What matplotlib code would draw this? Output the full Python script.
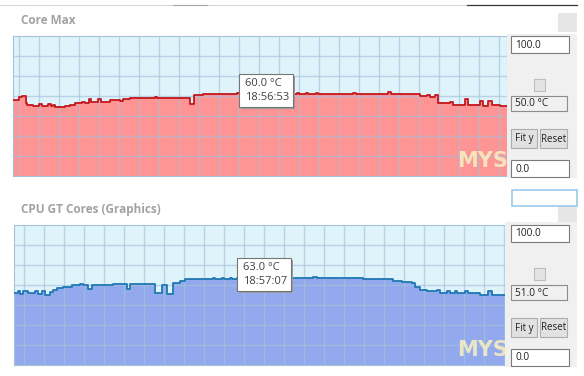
import matplotlib
matplotlib.use("Agg")
import matplotlib.pyplot as plt
from matplotlib.patches import Rectangle

# -----------------------------
# Values (deg C)
# times are seconds from the left edge of each graph, steps start there
# -----------------------------
core_t = [0, 6, 9, 13, 14, 20, 26, 29, 35, 38, 40, 42, 52, 57, 62, 69, 72, 76, 78,
          85, 88, 97, 107, 110, 117, 142, 144, 177, 181, 190, 224, 242, 262, 280,
          284, 286, 293, 295, 303, 305, 340, 343, 375, 378, 407, 414, 417, 422,
          425, 437, 440, 452, 455, 467, 470, 475, 479, 487]
core_max = [54.1, 56.4, 57.1, 52.4, 50.9, 50.0, 51.6, 50.0, 51.6, 50.0, 51.0, 49.3,
            50.0, 50.9, 52.1, 52.9, 52.4, 54.8, 52.9, 55.2, 52.9, 54.5, 53.4, 54.8,
            55.7, 56.4, 55.7, 51.6, 58.1, 58.8, 59.0, 60.0, 59.0, 58.6, 59.5, 58.6,
            59.5, 58.6, 59.5, 58.6, 59.5, 58.6, 60.0, 58.6, 57.1, 58.1, 56.6, 58.1,
            51.8, 52.9, 50.9, 54.8, 50.5, 53.4, 50.0, 53.4, 50.9, 49.8]
core_end = 494

gt_t = [0, 4, 6, 9, 14, 21, 24, 28, 31, 36, 39, 43, 49, 58, 66, 69, 74, 78, 99,
        103, 113, 116, 141, 148, 153, 159, 166, 171, 186, 199, 201, 208, 210, 216,
        218, 223, 279, 299, 303, 339, 349, 379, 388, 398, 401, 406, 413, 423, 426,
        433, 436, 441, 443, 451, 454, 466, 474, 478, 486]
gt_cores = [51.4, 52.6, 50.9, 52.6, 51.4, 52.6, 50.9, 52.6, 50.2, 52.1, 53.8, 55.0,
            55.7, 56.9, 57.9, 56.9, 54.5, 57.4, 58.1, 57.9, 54.5, 58.1, 51.2, 57.1,
            50.7, 58.3, 60.2, 61.2, 61.7, 62.3, 61.7, 62.3, 61.7, 62.3, 61.7, 62.3,
            62.0, 62.6, 61.8, 62.4, 61.6, 59.8, 59.3, 58.3, 55.5, 53.8, 52.6, 53.8,
            51.4, 52.6, 51.4, 53.0, 51.4, 52.6, 51.4, 49.8, 52.6, 50.2, 49.8]
gt_end = 491

titles = ["Core Max", "CPU GT Cores (Graphics)"]
tip_values = ["60.0 °C", "63.0 °C"]
tip_times = ["18:56:53", "18:57:07"]
current_values = ["50.0 °C", "51.0 °C"]
scale_max = "100.0"
scale_min = "0.0"

W, H = 584, 376
fig = plt.figure(figsize=(W / 100, H / 100), dpi=100)
plt.rcParams["font.family"] = ["Open Sans", "DejaVu Sans"]


def px_axes(x0, y0, x1, y1):
    return fig.add_axes([x0 / W, 1 - y1 / H, (x1 - x0) / W, (y1 - y0) / H])


def graph(ax, t, v, t_end, grid_start, fill, line):
    tt = t + [t_end]
    vv = v + [v[-1]]
    ax.set_facecolor("#DFF3FB")
    ax.fill_between(tt, vv, 0, step="post", color=fill, lw=0, zorder=1)
    ax.step(tt, vv, where="post", color=line, lw=1.3, zorder=3)
    ax.set_xlim(0, t_end)
    ax.set_ylim(0, 100)
    ax.set_xticks(range(grid_start, t_end, 20))
    ax.set_yticks([100 - 100 / 7 * k for k in range(1, 7)])
    ax.tick_params(length=0, labelbottom=False, labelleft=False)
    ax.grid(True, color="#A4C2DA", lw=1, alpha=0.65)
    ax.set_axisbelow(False)
    for s in ax.spines.values():
        s.set_color("#A4C2DA")


# -----------------------------
# The two graphs
# -----------------------------
ax1 = px_axes(13, 36, 507, 176)
graph(ax1, core_t, core_max, core_end, 6, "#FF9494", "#C4161C")

ax2 = px_axes(14, 225, 505, 365)
graph(ax2, gt_t, gt_cores, gt_end, 10, "#93A9EE", "#1F78B4")

# -----------------------------
# Window decorations drawn on a pixel overlay
# -----------------------------
ov = fig.add_axes([0, 0, 1, 1])
ov.set_xlim(0, W)
ov.set_ylim(H, 0)
ov.axis("off")
ov.patch.set_alpha(0)


def rect(x0, y0, x1, y1, fc, ec="none", z=5, lw=0.8):
    ov.add_patch(Rectangle((x0, y0), x1 - x0, y1 - y0, fc=fc, ec=ec, lw=lw, zorder=z))


def field(x0, y0, x1, y1, text, fc="white", ec="#7A7A7A", center=False):
    rect(x0, y0, x1, y1, fc, ec, z=7)
    if center:
        ov.text((x0 + x1) / 2, (y0 + y1) / 2 + 0.5, text, ha="center", va="center",
                fontsize=7, color="#202020", zorder=8)
    else:
        ov.text(x0 + 4, (y0 + y1) / 2 + 0.5, text, ha="left", va="center",
                fontsize=7.3, color="#202020", zorder=8)


# top edge of the window
ov.plot([0, 577], [5, 5], color="#D6D6D6", lw=0.8)
ov.plot([173, 207], [5, 5], color="#A8A8A8", lw=0.8)
ov.plot([467, 577], [5, 5], color="#3A3A3A", lw=0.9)

# titles
ov.text(21, 20, titles[0], fontsize=8.5, fontweight="bold", color="#A2A2A2", va="center")
ov.text(21, 209, titles[1], fontsize=8.5, fontweight="bold", color="#A2A2A2", va="center")

# right hand panels
rect(507, 34, 577, 178, "#F0F0F0", z=4)
rect(558, 13, 577, 32, "#E6E6E6", z=4)
rect(505, 222, 577, 367, "#F0F0F0", z=4)
rect(558, 206, 577, 222, "#E6E6E6", z=4)
rect(512, 190, 577, 206, "white", "#9CC8E8", z=4, lw=1.2)

for dy, cur in zip([0, 189], current_values):
    field(511, 36 + dy, 569, 53 + dy, scale_max)
    rect(534, 79 + dy, 545, 91 + dy, "#E4E4E4", "#BDBDBD", z=7)
    field(511, 96 + dy, 567, 111 + dy, cur, fc="#F0F0F0", ec="#8C8C8C")
    field(511, 129 + dy, 537, 148 + dy, "Fit y", fc="#E1E1E1", ec="#ADADAD", center=True)
    field(540, 129 + dy, 567, 148 + dy, "Reset", fc="#E1E1E1", ec="#ADADAD", center=True)
    field(511, 160 + dy, 569, 177 + dy, scale_min)

# watermark (only the part left of the controls shows)
for yb in [167, 356]:
    ov.text(457, yb, "MYS", fontsize=15, fontweight="bold", family="DejaVu Sans",
            color="#FAF0C0", alpha=0.85, va="baseline", zorder=6)

# tooltips
for (x0, y0), val, tm in zip([(239, 74), (237, 258)], tip_values, tip_times):
    rect(x0 + 2, y0 + 2, x0 + 56, y0 + 35, "#9A9A9A", z=8)
    rect(x0, y0, x0 + 54, y0 + 33, "white", "#767676", z=9)
    ov.text(x0 + 6, y0 + 9, val, fontsize=8, color="#404040", va="center", zorder=10)
    ov.text(x0 + 6, y0 + 24, tm, fontsize=8, color="#404040", va="center", zorder=10)

plt.savefig("out.png", dpi=100)
